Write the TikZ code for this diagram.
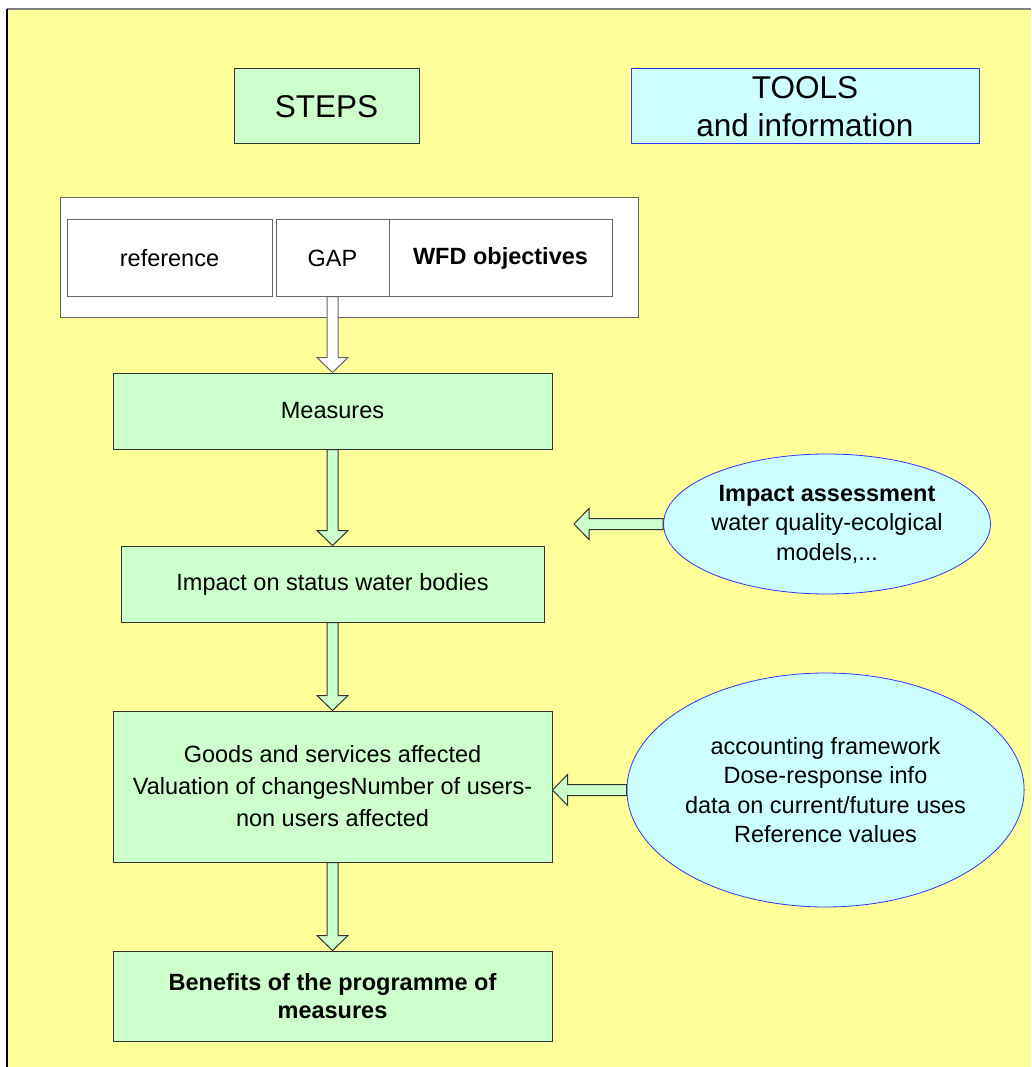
\documentclass[tikz,border=0pt]{standalone}
\usepackage{fontspec}
\setmainfont{Liberation Sans}
\usetikzlibrary{shapes.geometric,calc}

\definecolor{pageyellow}{HTML}{FFFF99}
\definecolor{stepgreen}{HTML}{CCFFCC}
\definecolor{toolcyan}{HTML}{CCFFFF}
\definecolor{toolblue}{HTML}{3333FF}
\definecolor{boxedge}{HTML}{333333}
\definecolor{whiteedge}{HTML}{666666}

\tikzset{
  x=1pt, y=-1pt,
  bodyfont/.style={font=\fontsize{23.5}{29.5}\selectfont},
  titlefont/.style={font=\fontsize{31.5}{38}\selectfont},
  stepbox/.style={draw=boxedge, line width=1pt, fill=stepgreen, inner sep=0pt,
                  align=center, bodyfont},
  plainbox/.style={draw=whiteedge, line width=1pt, fill=white, inner sep=0pt,
                   align=center, bodyfont},
  toolbox/.style={draw=toolblue, line width=1pt, fill=toolcyan, inner sep=0pt,
                  align=center, titlefont},
  toolellipse/.style={ellipse, draw=toolblue, line width=0.8pt, fill=toolcyan,
                      inner sep=0pt, align=center, bodyfont},
  blockarrow/.style={draw=boxedge, line width=1pt, fill=stepgreen, line join=miter},
}

% block arrow pointing down, from the bottom of one box to the top of the next
\newcommand\blockdown[3][]{%
  \draw[blockarrow,#1] let \p1=(#2), \p2=(#3) in
    (\x1-5.5pt,\y1) -- (\x1+5.5pt,\y1) -- (\x1+5.5pt,\y2+15pt)
    -- (\x1+15.5pt,\y2+15pt) -- (\x1,\y2) -- (\x1-15.5pt,\y2+15pt)
    -- (\x1-5.5pt,\y2+15pt) -- cycle;}

% block arrow pointing left, from an ellipse to a target x position
\newcommand\blockleft[3][]{%
  \draw[blockarrow,#1] let \p1=(#2), \p2=(#3) in
    (\x1,\y1+5.5pt) -- (\x2+15pt,\y1+5.5pt) -- (\x2+15pt,\y1+15.5pt)
    -- (\x2,\y1) -- (\x2+15pt,\y1-15.5pt) -- (\x2+15pt,\y1-5.5pt)
    -- (\x1,\y1-5.5pt) -- cycle;}

\begin{document}
\begin{tikzpicture}
  % page and yellow sheet
  \fill[white] (0,0) rectangle (1031,1067);
  \useasboundingbox (0,0) rectangle (1031,1067);
  \fill[pageyellow] (7,9) rectangle (1031,1067);
  \draw[gray, line width=1.2pt] (7,9) -- (1031,9);
  \draw[black, line width=1.2pt] (7,9) -- (7,1067);

  % column headings
  \node[stepbox, titlefont, minimum width=185, minimum height=75] (steps) at (326.5,106.5) {STEPS};
  \node[toolbox, minimum width=348, minimum height=75] (tools) at (805,106.5) {TOOLS\\and information};

  % reference / gap / objectives
  \node[plainbox, minimum width=578, minimum height=119] (frame) at (349,257.5) {};
  \node[plainbox, minimum width=205, minimum height=76] (ref) at (169.5,258) {reference};
  \node[plainbox, minimum width=113, minimum height=76] (gap) at (332.5,258) {GAP};
  \node[plainbox, minimum width=223, minimum height=76, font=\fontsize{23.5}{29.5}\selectfont\bfseries] (wfd) at (500.5,258) {WFD objectives};

  % steps
  \node[stepbox, minimum width=439, minimum height=76] (measures) at (332.5,411) {Measures};
  \node[stepbox, minimum width=423, minimum height=76] (impact) at (332.5,584) {Impact on status water bodies};
  \node[stepbox, minimum width=439, minimum height=151, font=\fontsize{23.5}{32}\selectfont] (goods) at (332.5,786.5)
    {Goods and services affected\\Valuation of changesNumber of users-\\non users affected};
  \node[stepbox, minimum width=439, minimum height=90, font=\fontsize{23.5}{28}\selectfont\bfseries] (benefits) at (332.5,996)
    {Benefits of the programme of\\measures};

  % tools and information
  \node[toolellipse, minimum width=326, minimum height=140] (assess) at (827,524)
    {\textbf{Impact assessment}\\water quality-ecolgical\\models,...};
  \node[toolellipse, minimum width=375, minimum height=234] (account) at (825.5,790)
    {accounting framework\\Dose-response info\\data on current/future uses\\Reference values};
  \coordinate (assesstip) at (574,524);

  % connectors
  \blockdown[fill=white, draw=whiteedge]{gap.south}{measures.north}
  \blockdown{measures.south}{impact.north}
  \blockdown{impact.south}{goods.north}
  \blockdown{goods.south}{benefits.north}
  \blockleft{assess.west}{assesstip}
  \blockleft{account.west}{goods.east}
\end{tikzpicture}
\end{document}
